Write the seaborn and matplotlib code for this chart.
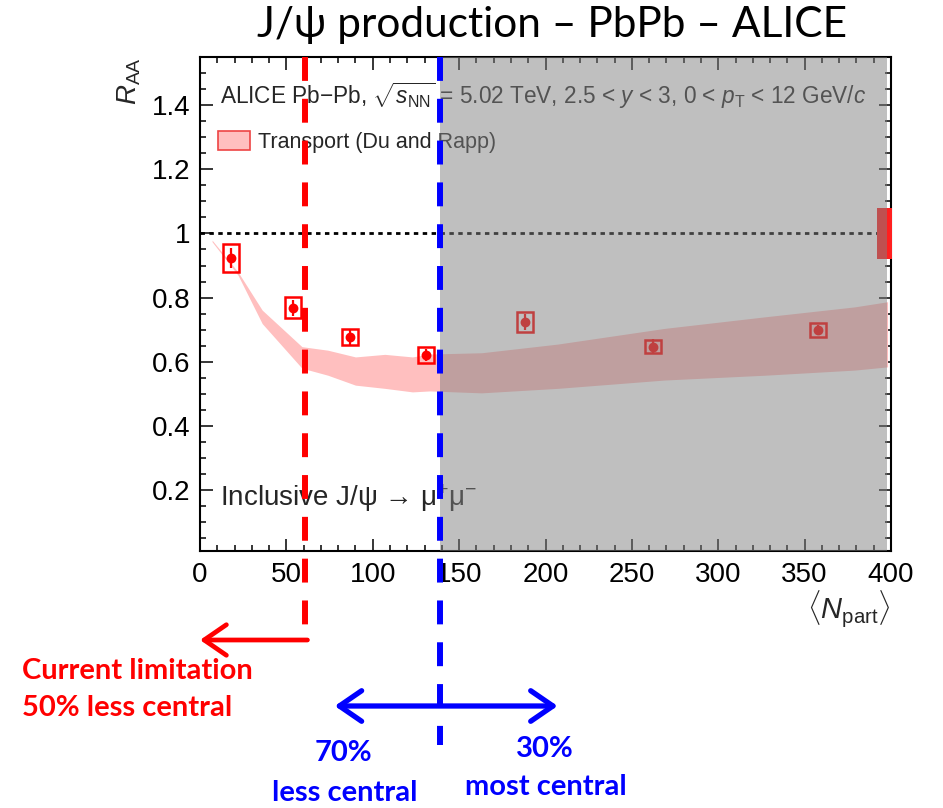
import matplotlib
matplotlib.use("Agg")
import matplotlib.pyplot as plt
import seaborn as sns
import pandas as pd
from matplotlib.patches import Rectangle, Patch
from matplotlib import transforms
from matplotlib.ticker import MultipleLocator, FuncFormatter

# ALICE inclusive J/psi R_AA vs <N_part>, Pb-Pb 5.02 TeV, 2.5 < y < 3
npart = [18, 54, 87, 131, 188, 262, 358]
raa = [0.924, 0.768, 0.677, 0.621, 0.724, 0.647, 0.699]
stat_err = [0.032, 0.026, 0.024, 0.020, 0.026, 0.023, 0.015]
syst_err = [0.044, 0.033, 0.025, 0.025, 0.030, 0.021, 0.021]
global_err = 0.079

# Transport model band (Du and Rapp)
model_npart = [7, 22, 36, 59, 74, 90, 107, 123, 133, 163, 207, 269, 327, 379, 398]
model_hi = [0.979, 0.880, 0.761, 0.647, 0.636, 0.615, 0.623, 0.615, 0.624, 0.628,
            0.655, 0.704, 0.740, 0.771, 0.787]
model_lo = [0.974, 0.870, 0.719, 0.580, 0.558, 0.527, 0.517, 0.506, 0.509, 0.503,
            0.517, 0.543, 0.558, 0.574, 0.584]

# centrality boundaries
limit_npart = 61
split_npart = 139

RED = "#ff0000"
BLUE = "#0000ff"

sns.set_theme(style="ticks")
plt.rcParams["font.family"] = ["Liberation Sans", "DejaVu Sans"]
plt.rcParams["mathtext.fontset"] = "custom"
plt.rcParams["mathtext.rm"] = "Liberation Sans"
plt.rcParams["mathtext.it"] = "Liberation Sans:italic"
plt.rcParams["mathtext.bf"] = "Liberation Sans:bold"

W, H = 943, 808
fig = plt.figure(figsize=(W / 100, H / 100), dpi=100)
ax = fig.add_axes([200 / W, 1 - 551 / H, 691 / W, 494 / H])

df = pd.DataFrame({"npart": npart, "raa": raa, "stat": stat_err, "syst": syst_err})

# model band
ax.fill_between(model_npart, model_lo, model_hi, color="#ffbfbf", lw=0, zorder=1)

# unity reference
ax.axhline(1.0, color="black", lw=2.0, ls=(0, (1.6, 1.6)), zorder=2)

# systematic boxes
for x, y, s in zip(df["npart"], df["raa"], df["syst"]):
    ax.add_patch(Rectangle((x - 4.6, y - s), 9.2, 2 * s, fill=False,
                           edgecolor=RED, lw=1.8, zorder=3))
# statistical errors
ax.errorbar(df["npart"], df["raa"], yerr=df["stat"], fmt="none",
            ecolor=RED, elinewidth=1.6, capsize=0, zorder=3)
sns.scatterplot(data=df, x="npart", y="raa", color=RED, s=50,
                edgecolor=RED, linewidth=0, zorder=4, ax=ax, legend=False)

# global uncertainty box
ax.add_patch(Rectangle((392, 1 - global_err), 8.5, 2 * global_err,
                       facecolor="#ff2020", edgecolor="none", zorder=3,
                       clip_on=False))

ax.set_xlim(0, 400)
ax.set_ylim(0.01, 1.55)
ax.xaxis.set_major_locator(MultipleLocator(50))
ax.xaxis.set_minor_locator(MultipleLocator(10))
ax.yaxis.set_major_locator(MultipleLocator(0.2))
ax.yaxis.set_minor_locator(MultipleLocator(0.05))
ax.yaxis.set_major_formatter(FuncFormatter(lambda v, p: f"{v:g}"))
ax.xaxis.set_major_formatter(FuncFormatter(lambda v, p: f"{v:g}"))
ax.tick_params(which="both", direction="in", top=True, right=True,
               labelsize=20, width=1.1, color="black", labelcolor="black")
ax.tick_params(which="major", length=9)
ax.tick_params(which="minor", length=4.5)
ax.tick_params(axis="x", pad=8)
ax.tick_params(axis="y", pad=7)
for sp in ax.spines.values():
    sp.set_linewidth(1.5)
    sp.set_color("black")
ax.set_facecolor("white")

ax.set_xlabel(r"$\langle N_{\rm part}\rangle$", fontsize=21, loc="right", labelpad=0)
ax.set_ylabel(r"$R_{\rm AA}$", fontsize=20, loc="top", labelpad=6)

ax.text(0.029, 0.905,
        r"ALICE Pb$-$Pb, $\sqrt{s_{\rm NN}}$ = 5.02 TeV, 2.5 < $y$ < 3, 0 < $p_{\rm T}$ < 12 GeV/$c$",
        transform=ax.transAxes, fontsize=16.3, va="baseline", ha="left", zorder=3)
ax.text(0.029, 0.092, r"Inclusive J/ψ → μ$^{+}$μ$^{-}$",
        transform=ax.transAxes, fontsize=20, va="baseline", ha="left", zorder=3)

leg = ax.legend(handles=[Patch(facecolor="#ffbfbf", edgecolor="#ee4444", lw=1.2)],
                labels=["Transport (Du and Rapp)"], loc="center left",
                bbox_to_anchor=(0.026, 0.828), frameon=False, fontsize=15.5,
                handlelength=1.5, handleheight=0.95, handletextpad=0.35,
                borderpad=0, borderaxespad=0)
leg.set_zorder(3)

# most-central region shading
ax.axvspan(split_npart, 397.4, color="#808080", alpha=0.5, lw=0, zorder=6)

# annotation lines spanning beyond the axes
blend = transforms.blended_transform_factory(ax.transData, fig.transFigure)
def fy(px):
    return 1 - px / H

ax.plot([limit_npart, limit_npart], [fy(57), fy(640)], transform=blend, color=RED,
        lw=4.3, ls=(0, (4, 3)), clip_on=False, zorder=7)
ax.plot([split_npart, split_npart], [fy(57), fy(745)], transform=blend, color=BLUE,
        lw=4.3, ls=(0, (4, 3)), clip_on=False, zorder=7)
ax.annotate("", xy=(0, fy(640)), xytext=(limit_npart + 1.2, fy(640)),
            xycoords=blend, textcoords=blend, annotation_clip=False,
            arrowprops=dict(arrowstyle="->,head_length=0.8,head_width=0.55",
                            color=RED, lw=3.4, mutation_scale=20,
                            shrinkA=0, shrinkB=0))
ax.annotate("", xy=(78, fy(706)), xytext=(207, fy(706)),
            xycoords=blend, textcoords=blend, annotation_clip=False,
            arrowprops=dict(arrowstyle="<->,head_length=0.8,head_width=0.55",
                            color=BLUE, lw=3.8, mutation_scale=20,
                            shrinkA=0, shrinkB=0))

bold = dict(family=["Lato", "DejaVu Sans"], fontweight="bold", fontsize=21)
fig.text(22 / W, fy(671), "Current limitation", color=RED, ha="left", va="center", **bold)
fig.text(22 / W, fy(708), "50% less central", color=RED, ha="left", va="center", **bold)
fig.text(343 / W, fy(753), "70%", color=BLUE, ha="center", va="center", **bold)
fig.text(345 / W, fy(793), "less central", color=BLUE, ha="center", va="center", **bold)
fig.text(545 / W, fy(749), "30%", color=BLUE, ha="center", va="center", **bold)
fig.text(546 / W, fy(787), "most central", color=BLUE, ha="center", va="center", **bold)

fig.text(552 / W, fy(25), "J/ψ production – PbPb – ALICE", ha="center", va="center",
         family=["Lato", "DejaVu Sans"], fontsize=30.5, color="black")

fig.savefig("out.png", dpi=100)
